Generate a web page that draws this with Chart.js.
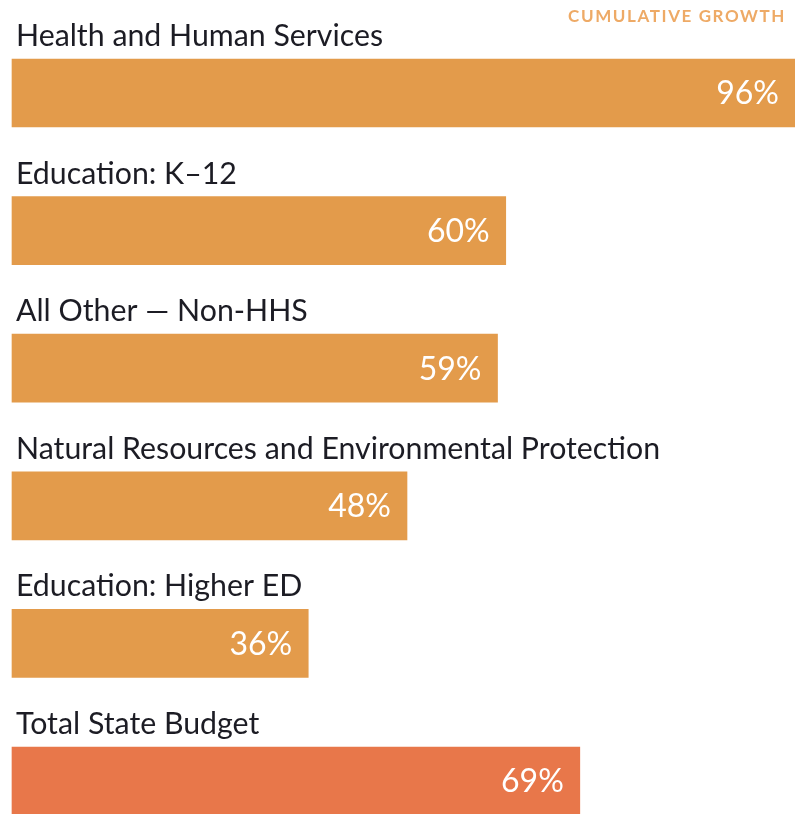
<!DOCTYPE html>
<html>
<head>
<meta charset="utf-8">
<script src="https://cdn.jsdelivr.net/npm/chart.js@4"></script>
<style>
  html, body { margin: 0; padding: 0; background: #fff; }
  #wrap { width: 795px; height: 814px; }
</style>
</head>
<body>
<div id="wrap"><canvas id="barChart" width="795" height="814"></canvas></div>
<script>
// Chart data
const categories = ['Health and Human Services', 'Education: K\u201312', 'All Other \u2014 Non-HHS',
  'Natural Resources and Environmental Protection', 'Education: Higher ED', 'Total State Budget'];
const growth = [96, 60, 59, 48, 36, 69];
const barColors = ['#E39B4B', '#E39B4B', '#E39B4B', '#E39B4B', '#E39B4B', '#E8774A'];
const headerText = 'CUMULATIVE GROWTH';

// Draws the category names above the bars, the % inside the bar ends and the header
const labelPlugin = {
  id: 'labels',
  afterDatasetsDraw(chart) {
    const ctx = chart.ctx;
    const meta = chart.getDatasetMeta(0);
    ctx.save();
    meta.data.forEach(function(bar, i) {
      const top = bar.y - bar.height / 2;
      // category label
      ctx.font = '30.3px Lato';
      ctx.fillStyle = '#1c1c24';
      ctx.textAlign = 'left';
      ctx.textBaseline = 'alphabetic';
      ctx.fillText(categories[i], 16, top - 13);
      // value label
      const end = Math.min(bar.x, chart.width);
      ctx.font = '32px Lato';
      ctx.fillStyle = '#ffffff';
      ctx.textAlign = 'right';
      ctx.textBaseline = 'middle';
      ctx.fillText(growth[i] + '%', end - 16, bar.y + 1);
    });
    ctx.font = 'bold 17px Lato';
    ctx.letterSpacing = '1.6px';
    ctx.fillStyle = '#EEAA66';
    ctx.textAlign = 'right';
    ctx.textBaseline = 'alphabetic';
    ctx.fillText(headerText, 786, 22);
    ctx.restore();
  }
};

const ctx = document.getElementById('barChart').getContext('2d');
const barChart = new Chart(ctx, {
  type: 'bar',
  data: {
    labels: categories,
    datasets: [{
      data: growth,
      backgroundColor: barColors,
      borderWidth: 0,
      barThickness: 68,
      clip: false
    }]
  },
  options: {
    indexAxis: 'y',
    responsive: false,
    animation: false,
    layout: { padding: { left: 12, right: 0, top: 93, bottom: 33 } },
    plugins: {
      legend: { display: false },
      tooltip: { enabled: false }
    },
    scales: {
      x: { display: false, min: 0, max: 95.15 },
      y: { display: false, offset: false }
    }
  },
  plugins: [labelPlugin]
});
</script>
</body>
</html>
